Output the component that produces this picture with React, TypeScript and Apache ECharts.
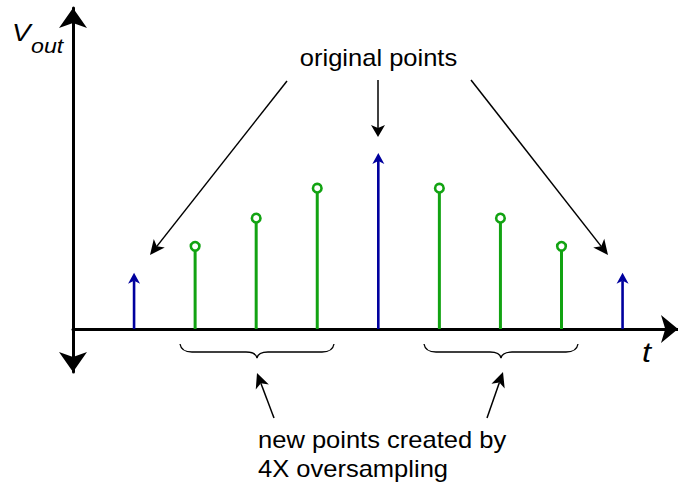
import React, { useEffect, useRef } from 'react';
import * as echarts from 'echarts';

// Sample times and amplitudes
const originalT = [1, 5, 9];
const originalV = [0.32, 1.0, 0.32];
const newT = [2, 3, 4, 6, 7, 8];
const newV = [0.47, 0.63, 0.8, 0.8, 0.63, 0.47];

// Texts
const yLabelMain = 'V';
const yLabelSub = 'out';
const xLabel = 't';
const topNote = 'original points';
const bottomNote = ['new points created by', '4X oversampling'];

const BLUE = '#00009e';
const GREEN = '#12a312';
const FONT = 'Liberation Sans';
const SX = 1.11;

const BRACE_D =
  'M0,0 C1,6 5,8 12,8 L66,8 C72,8 76,9 77,14 C78,9 82,8 88,8 L142,8 C149,8 153,6 154,0';

let registered = false;
function ensureShapes() {
  if (registered) return;
  echarts.graphic.registerShape('brace', echarts.graphic.extendPath(BRACE_D, {}));
  registered = true;
}

function arrow(x1: number, y1: number, x2: number, y2: number, L = 15, W = 7, N = 4, lw = 1.5): any[] {
  const dx = x2 - x1;
  const dy = y2 - y1;
  const len = Math.hypot(dx, dy);
  const ux = dx / len;
  const uy = dy / len;
  const px = -uy;
  const py = ux;
  const bx = x2 - ux * L;
  const by = y2 - uy * L;
  const nx = x2 - ux * (L - N);
  const ny = y2 - uy * (L - N);
  return [
    { type: 'line', shape: { x1, y1, x2: nx, y2: ny }, style: { stroke: '#000', lineWidth: lw } },
    {
      type: 'polygon',
      shape: { points: [[x2, y2], [bx + px * W, by + py * W], [nx, ny], [bx - px * W, by - py * W]] },
      style: { fill: '#000' },
    },
  ];
}

function txt(text: string, x: number, baseline: number, size: number, opts: any = {}) {
  return {
    type: 'text',
    x,
    y: baseline - 0.3465 * size,
    scaleX: opts.sx || SX,
    style: {
      text,
      fontSize: size,
      fontFamily: FONT,
      fontStyle: opts.italic ? 'italic' : 'normal',
      fill: '#000',
      align: opts.align || 'left',
      verticalAlign: 'middle',
    },
  };
}

export default function App() {
  const ref = useRef<HTMLDivElement>(null);
  useEffect(() => {
    if (!ref.current) return;
    ensureShapes();
    const chart = echarts.init(ref.current, undefined, { renderer: 'svg' });
    const option: any = {
      animation: false,
      grid: { left: 73, right: 0, top: 8, bottom: 110 },
      xAxis: {
        type: 'value',
        min: 0,
        max: 9.908,
        axisLine: {
          show: true,
          onZero: true,
          symbol: ['none', 'arrow'],
          symbolSize: [21, 17],
          lineStyle: { color: '#000', width: 3 },
        },
        axisTick: { show: false },
        axisLabel: { show: false },
        splitLine: { show: false },
      },
      yAxis: {
        type: 'value',
        min: -0.2443,
        max: 1.824,
        axisLine: {
          show: true,
          onZero: true,
          symbol: ['arrow', 'arrow'],
          symbolSize: [21, 20],
          lineStyle: { color: '#000', width: 3 },
        },
        axisTick: { show: false },
        axisLabel: { show: false },
        splitLine: { show: false },
      },
      series: [
        {
          type: 'custom',
          data: newT.map((t, i) => [t, newV[i]]),
          renderItem: (params: any, api: any) => {
            const t = api.value(0);
            const v = api.value(1);
            const p0 = api.coord([t, 0]);
            const p1 = api.coord([t, v]);
            const r = 4.3;
            return {
              type: 'group',
              children: [
                {
                  type: 'line',
                  shape: { x1: p0[0], y1: p0[1], x2: p1[0], y2: p1[1] + r },
                  style: { stroke: GREEN, lineWidth: 3 },
                },
                {
                  type: 'circle',
                  shape: { cx: p1[0], cy: p1[1], r },
                  style: { fill: '#fff', stroke: GREEN, lineWidth: 2.6 },
                },
              ],
            };
          },
        },
        {
          type: 'custom',
          data: originalT.map((t, i) => [t, originalV[i]]),
          renderItem: (params: any, api: any) => {
            const t = api.value(0);
            const v = api.value(1);
            const p0 = api.coord([t, 0]);
            const p1 = api.coord([t, v]);
            const L = 11;
            const W = 6;
            const N = 3;
            return {
              type: 'group',
              children: [
                {
                  type: 'line',
                  shape: { x1: p0[0], y1: p0[1], x2: p1[0], y2: p1[1] + L - N },
                  style: { stroke: BLUE, lineWidth: 2.6 },
                },
                {
                  type: 'polygon',
                  shape: {
                    points: [
                      [p1[0], p1[1]],
                      [p1[0] + W, p1[1] + L],
                      [p1[0], p1[1] + L - N],
                      [p1[0] - W, p1[1] + L],
                    ],
                  },
                  style: { fill: BLUE },
                },
              ],
            };
          },
        },
      ],
      graphic: [
        txt(yLabelMain, 12, 41, 24, { italic: true, sx: 1.16 }),
        txt(yLabelSub, 31, 53, 20, { italic: true, sx: 1.16 }),
        txt(xLabel, 642, 362, 28, { italic: true, sx: 1.16 }),
        txt(topNote, 378.5, 66, 23, { align: 'center' }),
        txt(bottomNote[0], 258, 448, 23),
        txt(bottomNote[1], 258, 477, 23),
        ...arrow(287, 81, 150, 255),
        ...arrow(378, 80, 378, 137, 12, 7, 3),
        ...arrow(471, 80, 608, 255),
        ...arrow(274, 418, 257, 373),
        ...arrow(487, 418, 503, 372),
        {
          type: 'brace',
          x: 180,
          y: 344,
          style: { fill: 'none', stroke: '#000', lineWidth: 1.3 },
        },
        {
          type: 'brace',
          x: 424,
          y: 344,
          style: { fill: 'none', stroke: '#000', lineWidth: 1.3 },
        },
      ],
    };
    chart.setOption(option);
    return () => chart.dispose();
  }, []);
  return (
    <div
      ref={ref}
      style={{ position: 'absolute', left: 0, top: 0, width: 678, height: 482, background: '#fff' }}
    />
  );
}
